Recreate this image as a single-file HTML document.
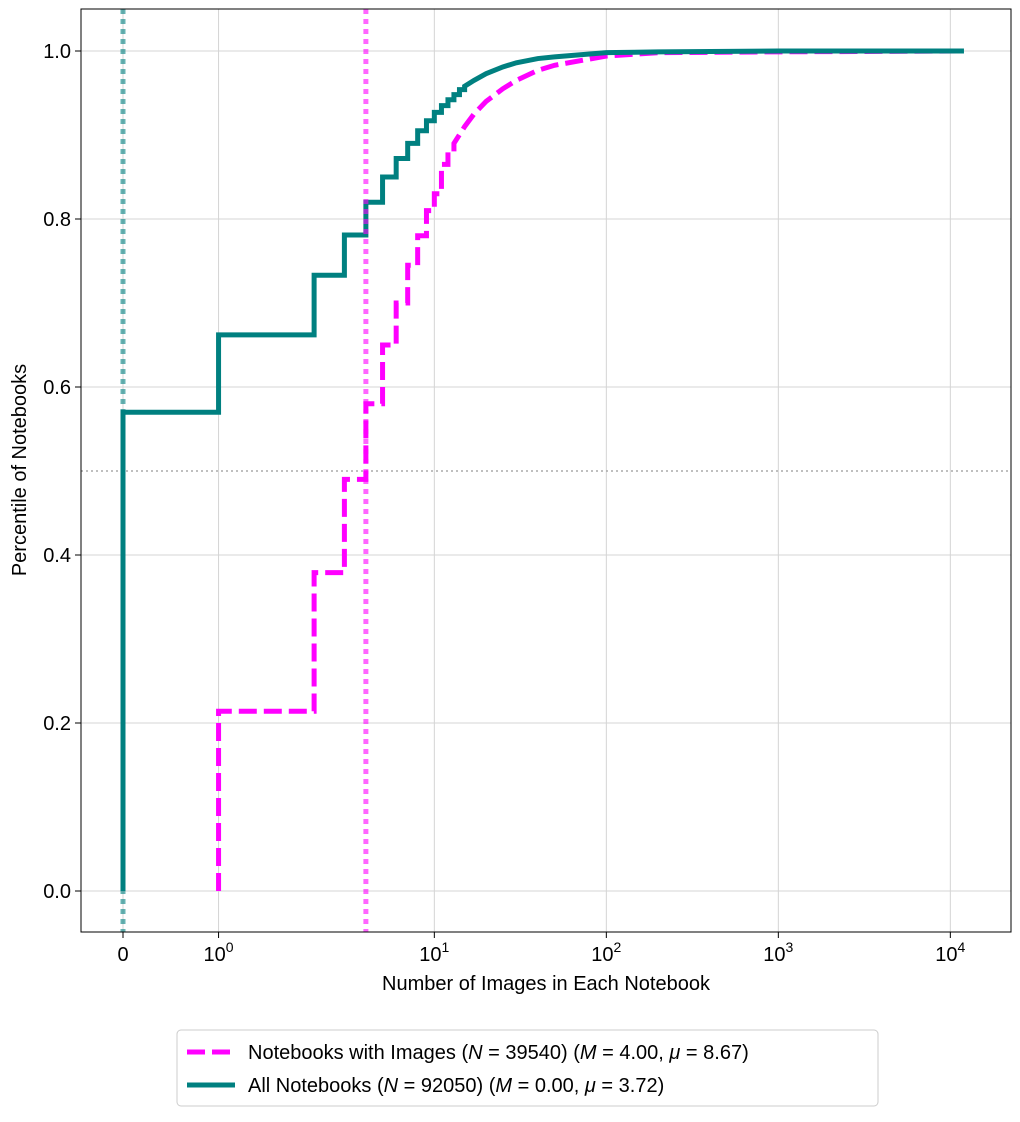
<!DOCTYPE html>
<html><head><meta charset="utf-8"><style>
body{margin:0;background:#fff;}
svg text{font-family:"Liberation Sans","DejaVu Sans",sans-serif;}
</style></head><body>
<svg id="chart" width="1020" height="1117" xmlns="http://www.w3.org/2000/svg">
<g id="grid"></g>
<g id="refs"></g>
<g id="series"></g>
<rect x="81" y="9" width="930" height="923" fill="none" stroke="#000" stroke-width="1"/>
<g id="xticks"></g>
<g id="yticks"></g>
<text x="546" y="990" font-size="20" text-anchor="middle">Number of Images in Each Notebook</text>
<text transform="translate(26,470) rotate(-90)" font-size="20" text-anchor="middle">Percentile of Notebooks</text>
<g>
<rect x="177" y="1030" width="701" height="76" rx="4" fill="#fff" stroke="#ccc"/>
<line x1="187" y1="1052" x2="235" y2="1052" stroke="#ff00ff" stroke-width="5" stroke-dasharray="18,7"/>
<text x="248" y="1059" font-size="20">Notebooks with Images (<tspan font-style="italic">N</tspan> = 39540) (<tspan font-style="italic">M</tspan> = 4.00, <tspan font-style="italic">μ</tspan> = 8.67)</text>
<line x1="187" y1="1085" x2="235" y2="1085" stroke="#008080" stroke-width="5"/>
<text x="248" y="1092" font-size="20">All Notebooks (<tspan font-style="italic">N</tspan> = 92050) (<tspan font-style="italic">M</tspan> = 0.00, <tspan font-style="italic">μ</tspan> = 3.72)</text>
</g>
</svg>
<script>
const allX = [0,1,2,3,4,5,6,7,8,9,10,11,12,13,14,15,17,20,25,30,40,50,100,200,1000,12000];
const allY = [0.57,0.662,0.733,0.781,0.82,0.85,0.872,0.89,0.905,0.917,0.927,0.935,0.942,0.948,0.954,0.958,0.965,0.973,0.981,0.986,0.991,0.993,0.998,0.999,1.0,1.0];
const imgX = [1,2,3,4,5,6,7,8,9,10,11,12,13,15,17,20,25,30,40,50,100,200,1000,12000];
const imgY = [0.214,0.379,0.49,0.58,0.65,0.70,0.745,0.78,0.81,0.83,0.865,0.88,0.89,0.91,0.925,0.94,0.955,0.965,0.977,0.983,0.994,0.998,0.999,1.0];
const xTickVals = [0,1,10,100,1000,10000];
const xTickLabels = ["0","10|0","10|1","10|2","10|3","10|4"];
const yTickVals = [0,0.2,0.4,0.6,0.8,1.0];
const medianAll = 0, medianImg = 4;
const NS="http://www.w3.org/2000/svg";
function T(x){const a=1/0.9;return x<=2?x*a:2*(a+Math.log10(x/2));}
function xs(x){return 123+86*T(x);}
function ys(y){return 891-840*y;}
function mk(tag,attrs,parent){const e=document.createElementNS(NS,tag);for(const k in attrs)e.setAttribute(k,attrs[k]);parent.appendChild(e);return e;}
const grid=document.getElementById('grid'),xt=document.getElementById('xticks'),yt=document.getElementById('yticks');
xTickVals.forEach((v,i)=>{
 const X=xs(v);
 const gl=mk('line',{x1:X,x2:X,y1:9,y2:932,stroke:'#d4d4d4','stroke-width':1},grid);
 
 
 mk('line',{x1:X,x2:X,y1:932,y2:938,stroke:'#000'},xt);
 const t=mk('text',{x:X,y:961,'font-size':20,'text-anchor':'middle'},xt);
 
 
 const p=xTickLabels[i].split('|');
 t.textContent=p[0];
 if(p[1]){const s=mk('tspan',{dy:-9,'font-size':14},t);s.textContent=p[1];}
});
yTickVals.forEach(v=>{
 const Y=ys(v);
 const gl=mk('line',{x1:81,x2:1011,y1:Y,y2:Y,stroke:'#d4d4d4','stroke-width':1},grid);
 
 
 mk('line',{x1:75,x2:81,y1:Y,y2:Y,stroke:'#000'},yt);
 const t=mk('text',{x:71,y:Y+7,'font-size':20,'text-anchor':'end'},yt);
 
 
 t.textContent=v.toFixed(1);
});
const refs=document.getElementById('refs');
const h=mk('line',{x1:81,x2:1011,y1:ys(0.5),y2:ys(0.5),stroke:'#aaa','stroke-width':1.5,'stroke-dasharray':'2,3'},refs);


const series=document.getElementById('series');
function step(xa,ya,startY){
 let d='M'+xs(xa[0])+','+ys(startY);
 for(let i=0;i<xa.length;i++){
  const prev=i===0?startY:ya[i-1];
  const stepped = i===0 || (xa[i]-xa[i-1]===1);
  if(stepped) d+=' L'+xs(xa[i])+','+ys(prev);
  d+=' L'+xs(xa[i])+','+ys(ya[i]);
 }
 return d;
}
const p1=mk('path',{d:step(imgX,imgY,0),fill:'none',stroke:'#ff00ff','stroke-width':5,'stroke-dasharray':'18,7'},series);


const p2=mk('path',{d:step(allX,allY,0),fill:'none',stroke:'#008080','stroke-width':5},series);


const v1=mk('line',{x1:xs(medianAll),x2:xs(medianAll),y1:9,y2:932,stroke:'#008080','stroke-opacity':0.6,'stroke-width':5,'stroke-dasharray':'5,5'},series);


const v2=mk('line',{x1:xs(medianImg),x2:xs(medianImg),y1:9,y2:932,stroke:'#ff00ff','stroke-opacity':0.6,'stroke-width':5,'stroke-dasharray':'5,5'},series);


</script>
</body></html>
